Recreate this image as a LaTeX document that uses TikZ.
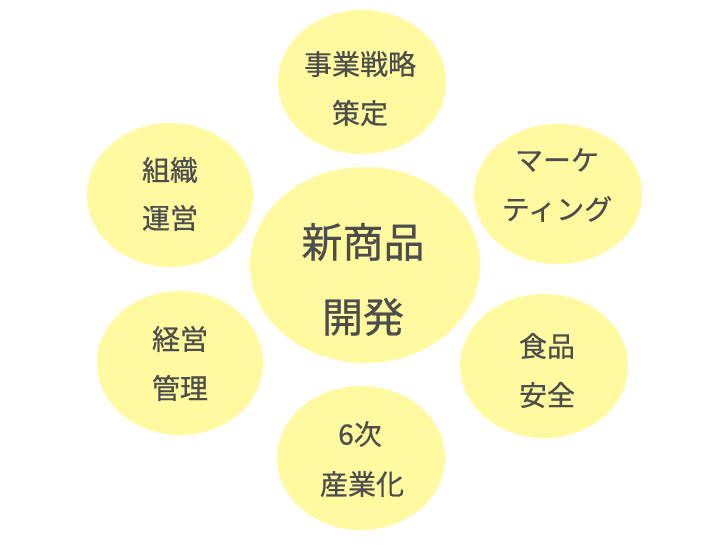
\documentclass[tikz,border=0pt]{standalone}
\usepackage{fontspec}
\setmainfont{Noto Sans CJK JP}
\newfontfamily\jpfont{Noto Sans CJK JP}[FakeBold=0.6]
\definecolor{bubble}{RGB}{255,250,160}
\definecolor{ink}{RGB}{77,77,77}
\tikzset{
  bub/.style={fill=bubble, draw=none},
  lbl/.style={text=ink, font=\jpfont\fontsize{28}{28}\selectfont, inner sep=0pt, anchor=center},
  biglbl/.style={text=ink, font=\jpfont\fontsize{41}{41}\selectfont, inner sep=0pt, anchor=center}
}
\begin{document}
\begin{tikzpicture}[x=1pt,y=-1pt]
\useasboundingbox (0,0) rectangle (726,545);
\fill[white] (0,0) rectangle (726,545);
% bubbles
\path[bub] (365,265) ellipse [x radius=115, y radius=98];
\path[bub] (362,82) ellipse [x radius=84, y radius=72];
\path[bub] (170,195) ellipse [x radius=83, y radius=72];
\path[bub] (558,194) ellipse [x radius=84, y radius=70];
\path[bub] (180,363) ellipse [x radius=83, y radius=72];
\path[bub] (544,366) ellipse [x radius=84, y radius=72];
\path[bub] (361,458) ellipse [x radius=84, y radius=72];
% labels
\node[biglbl] (c1) at (363,242) {新商品};
\node[biglbl] (c2) at (363,317) {開発};
\node[lbl] (t1) at (360,64) {事業戦略};
\node[lbl] (t2) at (360,113) {策定};
\node[lbl] (l1) at (170,170) {組織};
\node[lbl] (l2) at (170,218) {運営};
\node[lbl] (r1) at (557,160) {マーケ};
\node[lbl] (r2) at (557,209) {ティング};
\node[lbl] (bl1) at (180,339) {経営};
\node[lbl] (bl2) at (180,388) {管理};
\node[lbl] (br1) at (547,346) {食品};
\node[lbl] (br2) at (547,395) {安全};
\node[lbl] (b1) at (360,434) {6次};
\node[lbl] (b2) at (362,484) {産業化};
\end{tikzpicture}
\end{document}
